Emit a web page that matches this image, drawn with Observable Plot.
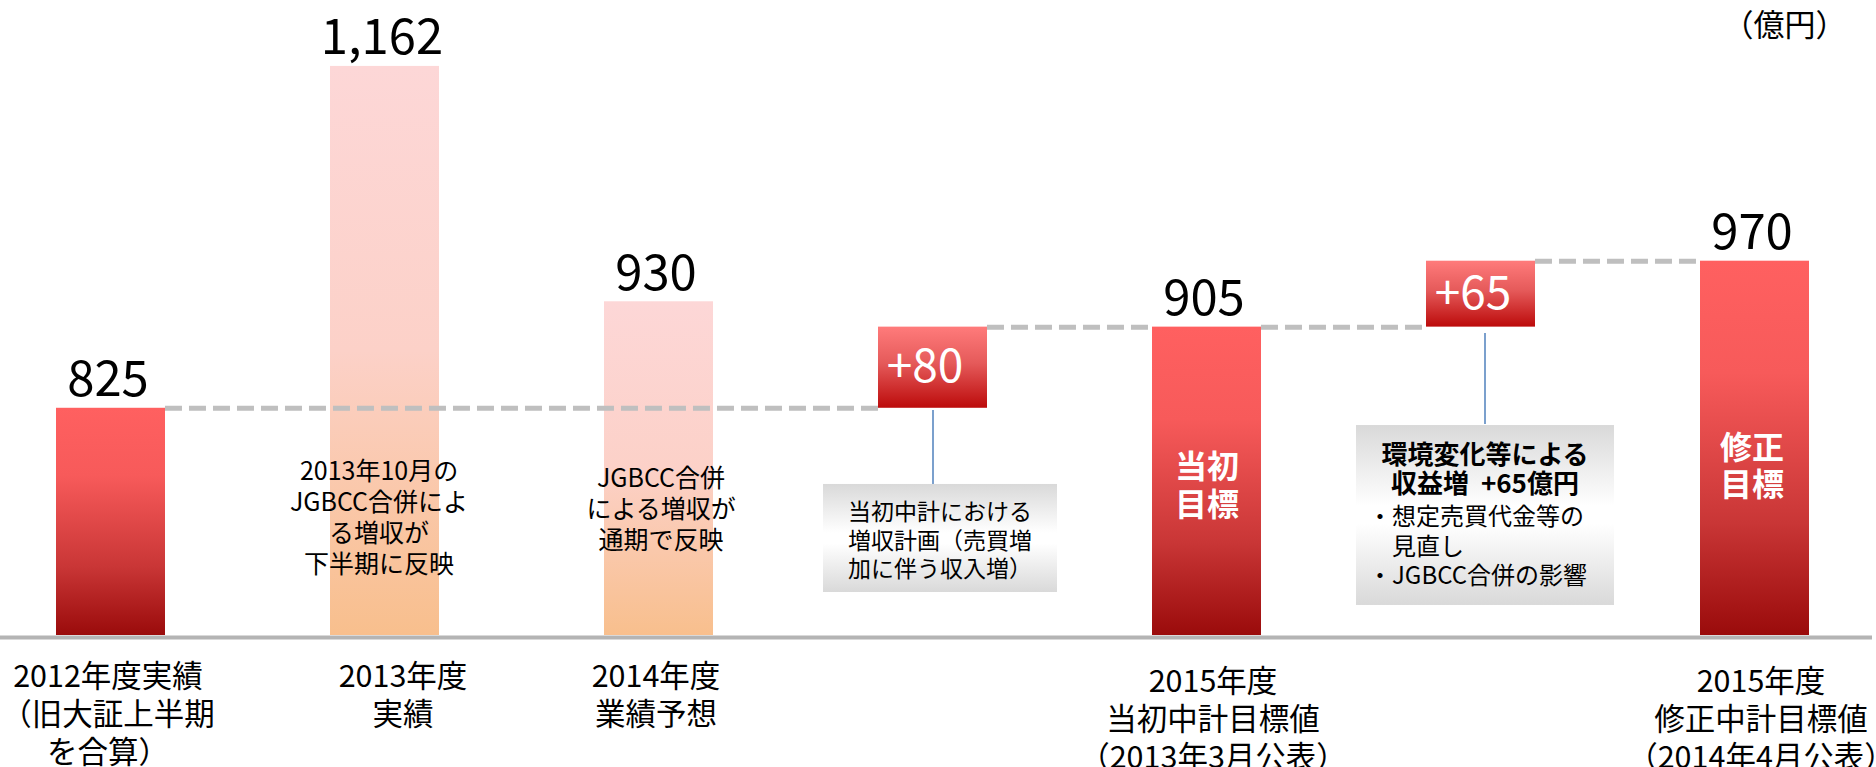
<!DOCTYPE html>
<html>
<head>
<meta charset="utf-8">
<script src="https://cdn.jsdelivr.net/npm/d3@7"></script>
<script src="https://cdn.jsdelivr.net/npm/@observablehq/plot@0.6"></script>
<style>
  html, body { margin: 0; padding: 0; background: #fff; }
  #chart svg { display: block; }
</style>
</head>
<body>
<div id="chart"></div>
<script>
// ---------- data ----------
const categories = ["FY2012", "FY2013", "FY2014", "planDelta", "FY2015Initial", "envDelta", "FY2015Revised"];
const axisLabels = [
  "2012年度実績\n（旧大証上半期\nを合算）",
  "2013年度\n実績",
  "2014年度\n業績予想",
  "",
  "2015年度\n当初中計目標値\n（2013年3月公表）",
  "",
  "2015年度\n修正中計目標値\n（2014年4月公表）"
];
const totals = [825, 1162, 930, null, 905, null, 970];
const barKinds = ["actual", "forecast", "forecast", "delta", "target", "delta", "target"];
const deltas = [null, null, null, 80, null, 65, null];
const bridgeFrom = [null, null, null, "FY2012", null, "FY2015Initial", null];
const bridgeTo = [null, null, null, "FY2015Initial", null, "FY2015Revised", null];
const barNotes = [
  null,
  "2013年10月の\nJGBCC合併によ\nる増収が\n下半期に反映",
  "JGBCC合併\nによる増収が\n通期で反映",
  null,
  "当初\n目標",
  null,
  "修正\n目標"
];
const calloutCats = ["planDelta", "envDelta"];
const calloutPlain = ["当初中計における\n増収計画（売買増\n加に伴う収入増）", null];
const calloutBold = [null, "環境変化等による\n収益増\u00a0\u00a0+65億円"];
const calloutBullets = [null, "・想定売買代金等の\n　見直し\n・JGBCC合併の影響"];
const unitLabel = "（億円）";
const yDomain = [601, 1227];

// ---------- derived tables ----------
const rows = categories.map((cat, i) => ({cat, total: totals[i], kind: barKinds[i], note: barNotes[i], label: axisLabels[i]}));
const totalRows = rows.filter(d => d.total != null);
const deltaRows = categories.map((cat, i) => {
  if (deltas[i] == null) return null;
  const base = totals[categories.indexOf(bridgeFrom[i])];
  return {cat, delta: deltas[i], base, top: base + deltas[i], from: bridgeFrom[i], to: bridgeTo[i]};
}).filter(d => d);
const links = deltaRows.flatMap(d => [
  {x1: d.from, x2: d.cat, y: d.base},
  {x1: d.cat, x2: d.to, y: d.top}
]);
const fmt = d3.format(",");
const byCat = c => rows[categories.indexOf(c)];
const yBase = yDomain[0];

// band geometry (matches the x scale options below)
const xRange = [0, 1865], pIn = 0.6025, pOut = 0.2024;
const bandwidth = (xRange[1] - xRange[0]) / (categories.length - pIn + 2 * pOut) * (1 - pIn);

const font = "'Noto Sans CJK JP', 'Noto Sans', sans-serif";

const chart = Plot.plot({
  width: 1876,
  height: 767,
  marginTop: 0,
  marginLeft: 0,
  marginRight: 4,
  marginBottom: 132,
  style: {fontFamily: font, background: "#fff", color: "#000"},
  x: {type: "band", domain: categories, range: xRange, paddingInner: pIn, paddingOuter: pOut, axis: null},
  y: {domain: yDomain, range: [635, 0], axis: null},
  marks: [
    // pink forecast bars
    Plot.rectY(totalRows.filter(d => d.kind === "forecast"), {x: "cat", y1: yBase, y2: "total", fill: "url(#gradForecast)"}),
    // dashed bridge lines (from right edge of one bar to left edge of the next)
    Plot.ruleY(links, {x1: "x1", x2: "x2", y: "y", insetLeft: bandwidth, insetRight: bandwidth, stroke: "#bfbfbf", strokeWidth: 5, strokeDasharray: "17,7"}),
    // red bars
    Plot.rectY(totalRows.filter(d => d.kind !== "forecast"), {x: "cat", y1: yBase, y2: "total", fill: "url(#gradRed)"}),
    // delta boxes
    Plot.rectY(deltaRows, {x: "cat", y1: "base", y2: "top", fill: "url(#gradDelta)"}),
    // baseline
    Plot.ruleY([yBase], {stroke: "#b4b4b4", strokeWidth: 4, dy: 2}),
    // connectors
    Plot.ruleX([calloutCats[0]], {x: d => d, y1: 822.8, y2: 749.9, stroke: "#4f81bd", strokeWidth: 1.5}),
    Plot.ruleX([calloutCats[1]], {x: d => d, y1: 898.7, y2: 809, stroke: "#4f81bd", strokeWidth: 1.5, dx: 4}),
    // callout boxes
    Plot.rectY([calloutCats[0]], {x: d => d, y1: 643.4, y2: 749.9, fill: "url(#gradGray)", insetLeft: -55, insetRight: -70}),
    Plot.rectY([calloutCats[1]], {x: d => d, y1: 630.6, y2: 808, fill: "url(#gradGray)", insetLeft: -70, insetRight: -79}),
    // callout texts
    Plot.text([calloutCats[0]], {x: d => d, y: 695.6, text: () => calloutPlain[0], fontSize: 23, lineHeight: 1.24, lineAnchor: "middle", dx: 7}),
    Plot.text([calloutCats[1]], {x: d => d, y: 764.6, text: () => calloutBold[1], fontSize: 26, fontWeight: "bold", lineHeight: 1.115, lineAnchor: "middle", dx: 4}),
    Plot.text([calloutCats[1]], {x: d => d, y: 689.7, text: () => calloutBullets[1], fontSize: 24, lineHeight: 1.23, lineAnchor: "middle", textAnchor: "start", dx: -113}),
    // value labels
    Plot.text(totalRows, {x: "cat", y: "total", text: d => fmt(d.total), fontSize: 49, lineAnchor: "bottom", dy: -12, dx: -3}),
    // delta labels
    Plot.text(deltaRows, {x: "cat", y: d => (d.base + d.top) / 2, text: d => "+" + d.delta, fontSize: 46, fill: "#fff", lineAnchor: "middle", dx: -8}),
    // notes in forecast bars
    Plot.text([byCat("FY2013")], {x: "cat", y: 718.3, text: "note", fontSize: 25, lineHeight: 1.24, lineAnchor: "middle", dx: -6}),
    Plot.text([byCat("FY2014")], {x: "cat", y: 726.2, text: "note", fontSize: 25, lineHeight: 1.24, lineAnchor: "middle", dx: 2}),
    // notes in target bars
    Plot.text([byCat("FY2015Initial")], {x: "cat", y: 749.9, text: "note", fontSize: 32, fontWeight: "bold", fill: "#fff", lineHeight: 1.19, lineAnchor: "middle"}),
    Plot.text([byCat("FY2015Revised")], {x: "cat", y: 768.6, text: "note", fontSize: 32, fontWeight: "bold", fill: "#fff", lineHeight: 1.15, lineAnchor: "middle", dx: -3}),
    // category labels
    Plot.text(rows.filter(d => d.cat === "FY2012" || d.cat === "FY2014"), {x: "cat", y: yBase, text: "label", fontSize: 30.5, lineHeight: 1.245, lineAnchor: "top", dy: 25, dx: -3}),
    Plot.text(rows.filter(d => d.cat === "FY2013"), {x: "cat", y: yBase, text: "label", fontSize: 30.5, lineHeight: 1.245, lineAnchor: "top", dy: 25, dx: 18}),
    Plot.text(rows.filter(d => d.cat === "FY2015Initial" || d.cat === "FY2015Revised"), {x: "cat", y: yBase, text: "label", fontSize: 30.5, lineHeight: 1.245, lineAnchor: "top", dy: 30, dx: 6}),
    // unit
    Plot.text([unitLabel], {frameAnchor: "top-right", text: d => d, fontSize: 31, lineAnchor: "middle", textAnchor: "middle", dx: -88, dy: 26})
  ]
});

// gradients
const svg = d3.select(chart.tagName.toLowerCase() === "svg" ? chart : chart.querySelector("svg"));
const defs = svg.insert("defs", ":first-child");
function grad(id, stops) {
  const g = defs.append("linearGradient").attr("id", id).attr("x1", 0).attr("y1", 0).attr("x2", 0).attr("y2", 1);
  stops.forEach(([o, c]) => g.append("stop").attr("offset", o).attr("stop-color", c));
}
grad("gradRed", [[0, "#ff6060"], [0.3, "#f75a5a"], [0.7, "#c93636"], [1, "#9a0b0b"]]);
grad("gradForecast", [[0, "#fdd7d7"], [0.5, "#fcd1c8"], [1, "#f8bf8d"]]);
grad("gradDelta", [[0, "#ff7b7b"], [0.45, "#e55a5a"], [1, "#bc0b0b"]]);
grad("gradGray", [[0, "#d9d9d9"], [0.45, "#ffffff"], [0.55, "#ffffff"], [1, "#d9d9d9"]]);

document.getElementById("chart").appendChild(chart);
</script>
</body>
</html>
